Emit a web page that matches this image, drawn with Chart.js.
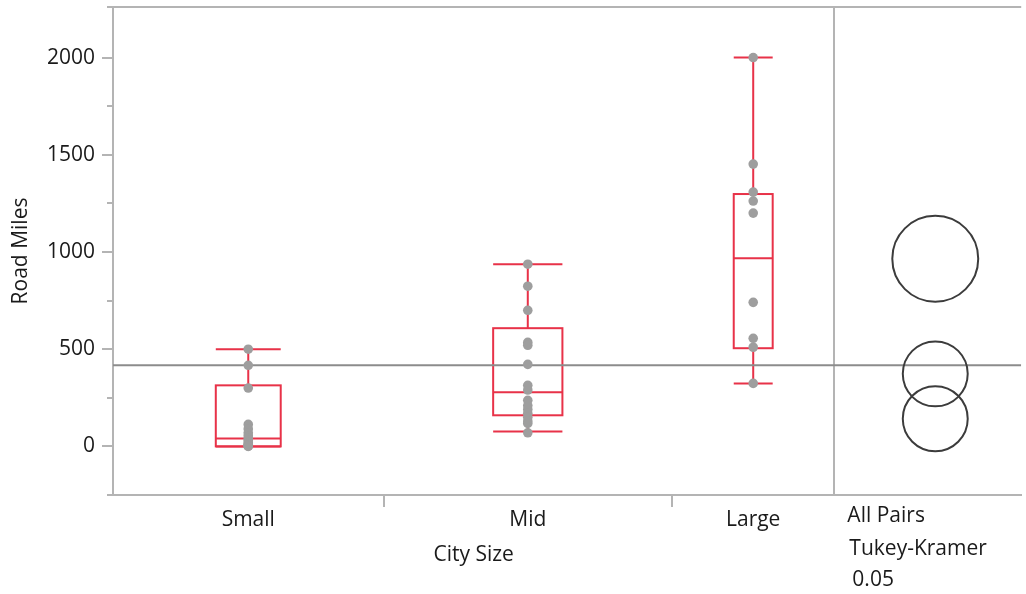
<!DOCTYPE html>
<html>
<head>
<meta charset="utf-8">
<title>Road Miles by City Size</title>
<script src="https://cdn.jsdelivr.net/npm/chart.js@4.4.1/dist/chart.umd.min.js"></script>
<style>
  html, body { margin: 0; padding: 0; background: #ffffff; }
  #wrap { width: 1026px; height: 594px; position: relative; }
</style>
</head>
<body>
<div id="wrap"><canvas id="chart" width="1026" height="594"></canvas></div>
<script>
// ---- data ----
const categories = ['Small', 'Mid', 'Large'];
const smallMiles = [500, 417, 300, 113, 90, 70, 55, 40, 30, 20, 12, 8, 5, 2, 0];
const midMiles = [937, 824, 700, 535, 520, 422, 314, 290, 237, 210, 190, 170, 150, 130, 118, 70];
const largeMiles = [2000, 1452, 1308, 1262, 1200, 741, 556, 510, 324];

// box-plot summaries per category (lower whisker, Q1, median, Q3, upper whisker)
const whiskerLow = [0, 77, 324];
const quartile1 = [0, 160, 505];
const medians = [41, 278, 968];
const quartile3 = [314, 608, 1298];
const whiskerHigh = [500, 937, 2000];

// grand mean and Tukey-Kramer comparison circles (centre = group mean, radius in miles)
const grandMean = 417;
const circleCenters = [142, 373, 965];
const circleRadii = [167, 167, 221];

const yTickValues = [0, 250, 500, 750, 1000, 1250, 1500, 1750, 2000];
const comparisonLabels = ['All Pairs', 'Tukey-Kramer', '0.05'];

// ---- layout helpers ----
const groups = [smallMiles, midMiles, largeMiles];
const counts = groups.map(g => g.length);           // group widths follow group sizes
const starts = [];
let acc = 0;
counts.forEach(n => { starts.push(acc); acc += n; });
const total = acc;
const centers = counts.map((n, i) => starts[i] + n / 2);
const boundaries = starts.slice(1);
const xMax = total * 1.259;                         // extra room for the circle panel
const circleX = total + (xMax - total) * 0.54;

const FONT = '"Open Sans", "Noto Sans", sans-serif';
const TEXT = '#1a1a1a';
const AXIS = '#b4b4b4';
const RED = 'rgb(232, 50, 72)';
const DOT = 'rgb(158, 158, 158)';

const observations = [];
groups.forEach((g, i) => g.forEach(v => observations.push({ x: centers[i], y: v })));

// boxes, whiskers, minor ticks, frame and panel text
const boxPlugin = {
  id: 'boxes',
  beforeDatasetsDraw(chart) {
    const { ctx, scales: { x, y } } = chart;
    ctx.save();
    ctx.strokeStyle = RED;
    ctx.lineWidth = 2;
    categories.forEach((c, i) => {
      const cx = x.getPixelForValue(centers[i]);
      const half = x.getPixelForValue(centers[i] + counts[i] * 0.12) - cx;
      const yq1 = y.getPixelForValue(quartile1[i]);
      const yq3 = y.getPixelForValue(quartile3[i]);
      const ym = y.getPixelForValue(medians[i]);
      const ylo = y.getPixelForValue(whiskerLow[i]);
      const yhi = y.getPixelForValue(whiskerHigh[i]);
      ctx.strokeRect(cx - half, yq3, half * 2, yq1 - yq3);
      ctx.beginPath();
      ctx.moveTo(cx - half, ym); ctx.lineTo(cx + half, ym);
      ctx.moveTo(cx, yq3); ctx.lineTo(cx, yhi);
      ctx.moveTo(cx, yq1); ctx.lineTo(cx, ylo);
      ctx.moveTo(cx - half, yhi); ctx.lineTo(cx + half, yhi);
      ctx.moveTo(cx - half, ylo); ctx.lineTo(cx + half, ylo);
      ctx.stroke();
    });
    ctx.restore();
  },
  afterDraw(chart) {
    const { ctx, chartArea: a, scales: { x, y } } = chart;
    ctx.save();
    ctx.strokeStyle = AXIS;
    ctx.lineWidth = 2;
    ctx.beginPath();
    // minor ticks
    yTickValues.filter(v => v % 500 !== 0).forEach(v => {
      const py = Math.round(y.getPixelForValue(v));
      ctx.moveTo(a.left - 6, py); ctx.lineTo(a.left, py);
    });
    // top frame line and corner overshoot
    ctx.moveTo(a.left - 6, a.top); ctx.lineTo(a.right, a.top);
    ctx.moveTo(a.left - 6, a.bottom); ctx.lineTo(a.left, a.bottom);
    ctx.stroke();

    ctx.fillStyle = TEXT;
    ctx.font = '21px ' + FONT;
    ctx.textBaseline = 'middle';
    ctx.textAlign = 'center';
    const mid = (x.getPixelForValue(0) + x.getPixelForValue(total)) / 2;
    ctx.fillText('City Size', mid, 555);
    ctx.textAlign = 'left';
    const px = x.getPixelForValue(total) + 13;
    ctx.fillText(comparisonLabels[0], px, 516);
    ctx.fillText(comparisonLabels[1], px + 2, 549);
    ctx.fillText(comparisonLabels[2], px + 5, 580);
    ctx.restore();
  }
};

const chart = new Chart(document.getElementById('chart'), {
  type: 'scatter',
  data: {
    datasets: [
      {
        type: 'line',
        data: [{ x: 0, y: grandMean }, { x: xMax, y: grandMean }],
        borderColor: 'rgb(140, 140, 140)',
        borderWidth: 2,
        pointRadius: 0,
        showLine: true,
        order: 3
      },
      {
        data: observations,
        pointRadius: 4.8,
        pointBackgroundColor: DOT,
        pointBorderWidth: 0,
        order: 2
      },
      {
        data: circleCenters.map(v => ({ x: circleX, y: v })),
        pointRadius: ctx => {
          const s = ctx.chart.scales.y;
          return Math.abs(s.getPixelForValue(circleRadii[ctx.dataIndex]) - s.getPixelForValue(0));
        },
        pointBackgroundColor: 'rgba(0,0,0,0)',
        pointBorderColor: 'rgb(60, 60, 60)',
        pointBorderWidth: 2,
        order: 1
      }
    ]
  },
  options: {
    responsive: false,
    animation: false,
    devicePixelRatio: 1,
    events: [],
    layout: { padding: { top: 7, right: 0, left: 0, bottom: 0 } },
    plugins: { legend: { display: false }, tooltip: { enabled: false } },
    scales: {
      x: {
        type: 'linear',
        min: 0,
        max: xMax,
        afterBuildTicks: s => {
          s.ticks = [...centers, ...boundaries, total].map(v => ({ value: v }));
        },
        afterFit: s => { s.height = 99; s.paddingLeft = 0; s.paddingRight = 0; },
        ticks: {
          autoSkip: false,
          maxRotation: 0,
          padding: 0,
          color: TEXT,
          font: { family: FONT, size: 21 },
          callback: v => {
            const i = centers.indexOf(v);
            return i >= 0 ? categories[i] : '';
          }
        },
        grid: {
          drawOnChartArea: true,
          tickLength: 12,
          lineWidth: 2,
          color: c => (c.tick && c.tick.value === total ? AXIS : 'rgba(0,0,0,0)'),
          tickColor: c => (c.tick && boundaries.includes(c.tick.value) ? AXIS : 'rgba(0,0,0,0)')
        },
        border: { display: true, color: AXIS, width: 2 }
      },
      y: {
        type: 'linear',
        min: -250,
        max: 2260,
        afterBuildTicks: s => { s.ticks = yTickValues.map(v => ({ value: v })); },
        afterFit: s => { s.width = 113; s.paddingTop = 0; s.paddingBottom = 0; },
        ticks: {
          padding: 7,
          color: TEXT,
          font: { family: FONT, size: 21 },
          callback: v => (v % 500 === 0 ? String(v) : '')
        },
        grid: {
          drawOnChartArea: false,
          tickLength: 11,
          lineWidth: 2,
          tickColor: c => (c.tick && c.tick.value % 500 === 0 ? AXIS : 'rgba(0,0,0,0)')
        },
        border: { display: true, color: AXIS, width: 2 },
        title: {
          display: true,
          text: 'Road Miles',
          color: TEXT,
          font: { family: FONT, size: 21 },
          padding: { top: 8, bottom: 0 }
        }
      }
    }
  },
  plugins: [boxPlugin]
});
</script>
</body>
</html>
